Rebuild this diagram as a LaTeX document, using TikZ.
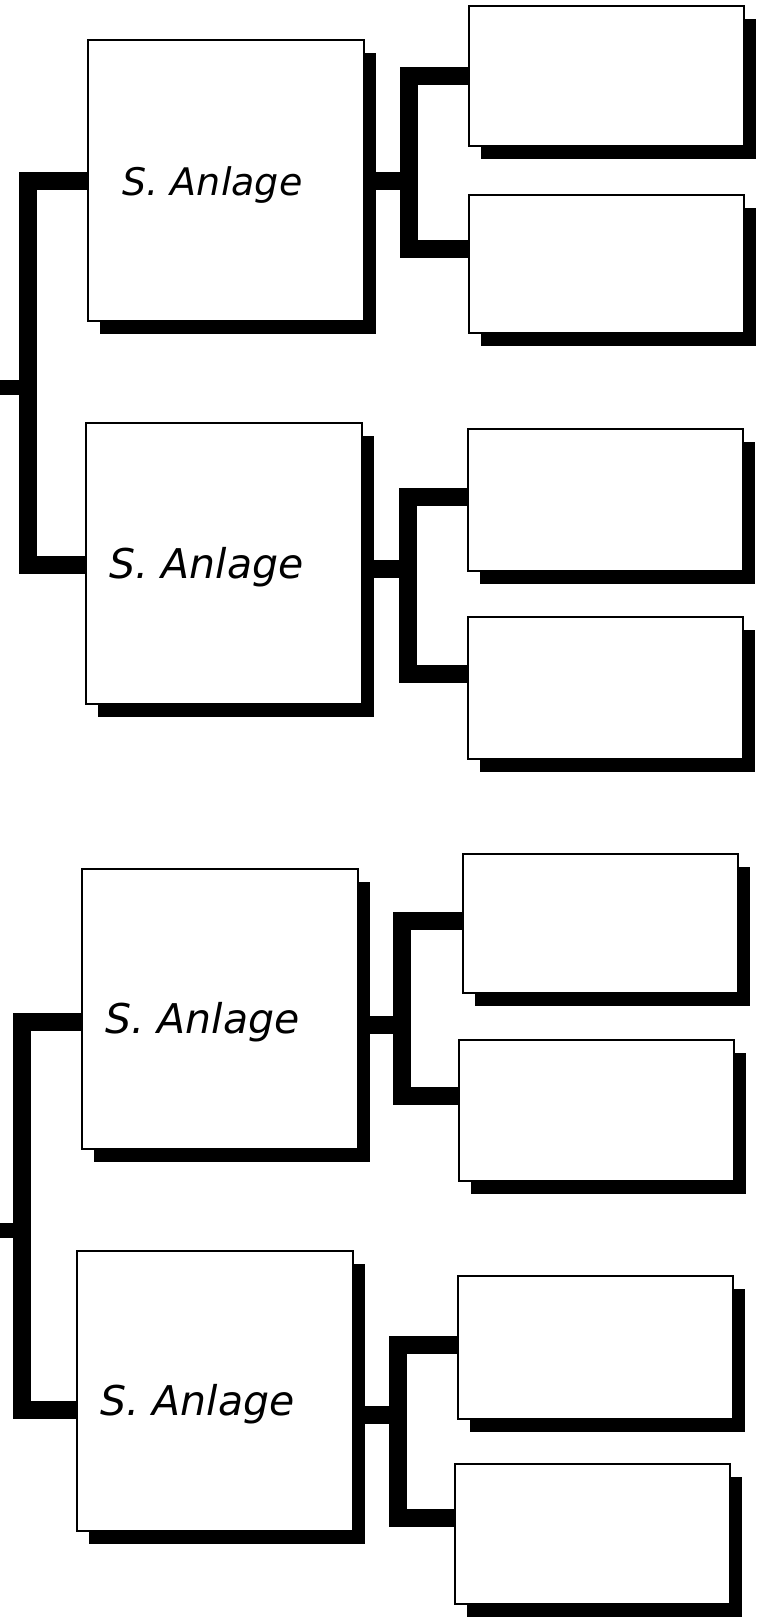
\documentclass[tikz,border=0pt]{standalone}
\usepackage{fontspec}
\usepackage{tikz}
\usetikzlibrary{shadows}
\newfontfamily\handfont{DejaVu Sans}

\tikzset{
    boxshadow/.style={drop shadow={shadow xshift=12pt, shadow yshift=-13pt,
                fill=black, opacity=1}},
    bigbox/.style={draw, line width=2.2pt, fill=white, anchor=north west,
                minimum height=281pt, text width=230pt, inner xsep=23pt,
                align=left, boxshadow, text depth=10pt, text height=40pt,
                font=\handfont\itshape\fontsize{41}{43}\selectfont},
    smallbox/.style={draw, line width=2.2pt, fill=white, anchor=north west,
                minimum width=275pt, minimum height=140pt, boxshadow},
    band/.style={draw=black, line width=18pt, line join=miter}
}

\begin{document}
\begin{tikzpicture}[x=1pt, y=-1pt]
\useasboundingbox (0,0) rectangle (760,1618);
% main boxes
\node[bigbox, text width=208pt, inner xsep=34pt,
      font=\handfont\itshape\fontsize{38}{40}\selectfont] (big1) at (87,39) {S. Anlage};
\node[bigbox]                                    (big2) at (85,422)  {S. Anlage};
\node[bigbox, minimum height=280pt, text height=58pt] (big3) at (81,868)  {S. Anlage};
\node[bigbox, minimum height=280pt, text height=58pt] (big4) at (76,1250) {S. Anlage};
% side boxes
\node[smallbox]                        (top1) at (468,5)    {};
\node[smallbox, minimum height=138pt]  (bot1) at (468,194)  {};
\node[smallbox, minimum height=142pt]  (top2) at (467,428)  {};
\node[smallbox, minimum height=142pt]  (bot2) at (467,616)  {};
\node[smallbox, minimum height=139pt]  (top3) at (462,853)  {};
\node[smallbox, minimum height=141pt]  (bot3) at (458,1039) {};
\node[smallbox, minimum height=143pt]  (top4) at (457,1275) {};
\node[smallbox]                        (bot4) at (454,1463) {};
% right connectors
\foreach \g/\jx/\ja/\jm/\jb in {1/409/76/181/249, 2/408/497/569/674,
                                3/402/921/1025/1096, 4/398/1345/1415/1518} {
    \coordinate (j\g) at (\jx,\jm);
    \draw[band] (big\g.east |- j\g) -- (j\g);
    \draw[band] (top\g.west |- 0,\ja) -| (j\g) |- (bot\g.west |- 0,\jb);
}
% left connectors
\coordinate (lj1) at (28,387);
\coordinate (in1) at (0,387);
\coordinate (lj2) at (22,1230);
\coordinate (in2) at (0,1230);
\draw[band] (big1.west |- 0,181) -| (lj1) |- (big2.west |- 0,565);
\draw[band] (big3.west |- 0,1022) -| (lj2) |- (big4.west |- 0,1410);
\draw[band, line width=15pt] (in1) -- (lj1);
\draw[band, line width=15pt] (in2) -- (lj2);
\end{tikzpicture}
\end{document}
